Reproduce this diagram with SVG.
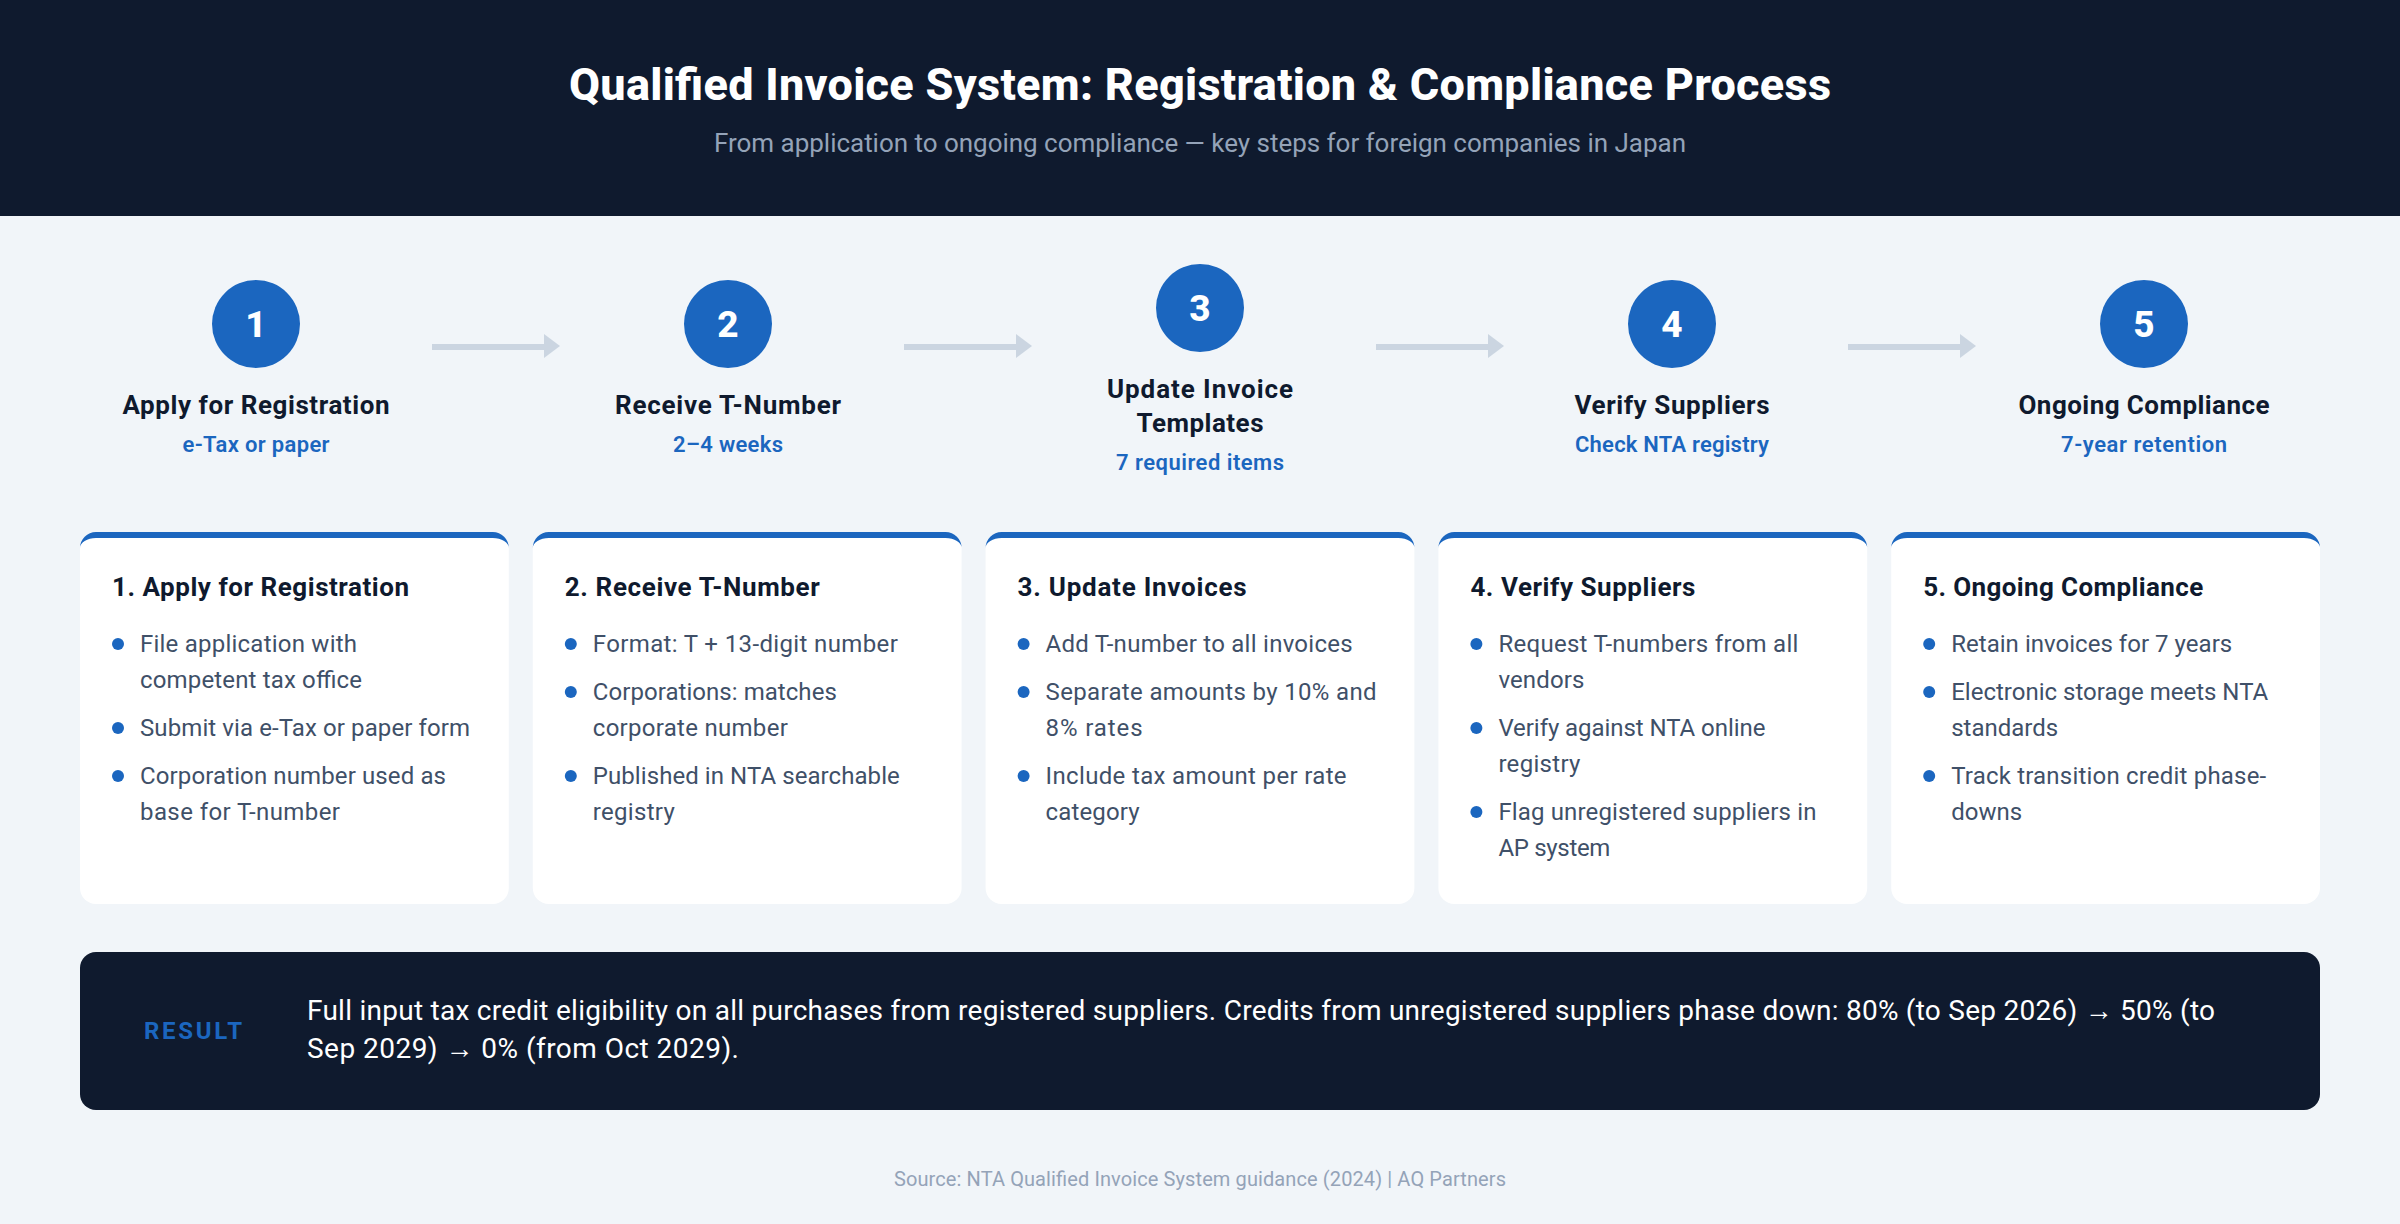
<svg xmlns="http://www.w3.org/2000/svg" width="2400" height="1224" viewBox="0 0 2400 1224">
<style>
text{font-family:"Roboto","Liberation Sans",sans-serif}
.ttl{font-size:45px;font-weight:800;fill:#fff;text-anchor:middle}
.subt{font-size:26px;fill:#94a3b8;text-anchor:middle}
.num{font-size:37px;font-weight:800;fill:#fff;text-anchor:middle}
.st{font-size:26px;font-weight:700;fill:#0f1a2e;text-anchor:middle}
.ss{font-size:22px;font-weight:600;fill:#1b66bf;text-anchor:middle}
.c,.d,.top{fill:#1b66bf}
.bg{fill:#fff}
.ch{font-size:26px;font-weight:700;fill:#0f1a2e}
.b{font-size:24px;fill:#3f5068}
.r{font-size:28px;fill:#fff}
.lab{font-size:24px;font-weight:700;fill:#1b66bf}
.src{font-size:20px;fill:#94a3b8;text-anchor:middle}
.a{stroke:#cbd5e1;stroke-width:6;fill:none}
.ah{fill:#cbd5e1}
</style>
<rect width="2400" height="1224" fill="#f1f5f9"/>
<g id="header"><rect width="2400" height="216" fill="#0f1a2e"/>
<text class="ttl" x="1200" y="100" textLength="1262">Qualified Invoice System: Registration &amp; Compliance Process</text>
<text class="subt" x="1200" y="152" textLength="972">From application to ongoing compliance — key steps for foreign companies in Japan</text></g>
<g id="connectors">
<path class="a" d="M432 347H545"/><path class="ah" d="M544 334L560 346L544 358Z"/>
<path class="a" d="M904 347H1017"/><path class="ah" d="M1016 334L1032 346L1016 358Z"/>
<path class="a" d="M1376 347H1489"/><path class="ah" d="M1488 334L1504 346L1488 358Z"/>
<path class="a" d="M1848 347H1961"/><path class="ah" d="M1960 334L1976 346L1960 358Z"/>
</g>
<g id="step1"><circle class="c" cx="256" cy="324" r="44"/><text class="num" x="256" y="337">1</text><text class="st" x="256" y="414" textLength="267">Apply for Registration</text><text class="ss" x="256" y="452" textLength="147">e-Tax or paper</text></g>
<g id="step2"><circle class="c" cx="728" cy="324" r="44"/><text class="num" x="728" y="337">2</text><text class="st" x="728" y="414" textLength="226">Receive T-Number</text><text class="ss" x="728" y="452" textLength="110">2–4 weeks</text></g>
<g id="step3"><circle class="c" cx="1200" cy="308" r="44"/><text class="num" x="1200" y="321">3</text><text class="st" x="1200" y="398" textLength="186">Update Invoice</text><text class="st" x="1200" y="432" textLength="127">Templates</text><text class="ss" x="1200" y="470" textLength="168">7 required items</text></g>
<g id="step4"><circle class="c" cx="1672" cy="324" r="44"/><text class="num" x="1672" y="337">4</text><text class="st" x="1672" y="414" textLength="195">Verify Suppliers</text><text class="ss" x="1672" y="452" textLength="194">Check NTA registry</text></g>
<g id="step5"><circle class="c" cx="2144" cy="324" r="44"/><text class="num" x="2144" y="337">5</text><text class="st" x="2144" y="414" textLength="251">Ongoing Compliance</text><text class="ss" x="2144" y="452" textLength="166">7-year retention</text></g>

<g id="card1">
<rect class="bg" x="80" y="532" width="428.8" height="372" rx="16"/>
<path class="top" d="M80 548A16 16 0 0 1 96 532H492.8A16 16 0 0 1 508.8 548A16 10 0 0 0 492.8 538H96A16 10 0 0 0 80 548Z"/>
<text class="ch" x="112" y="596" textLength="297">1. Apply for Registration</text>
<circle class="d" cx="118" cy="644" r="6"/><text class="b" x="140" y="652" textLength="217">File application with</text><text class="b" x="140" y="688" textLength="222">competent tax office</text>
<circle class="d" cx="118" cy="728" r="6"/><text class="b" x="140" y="736" textLength="330">Submit via e-Tax or paper form</text>
<circle class="d" cx="118" cy="776" r="6"/><text class="b" x="140" y="784" textLength="306">Corporation number used as</text><text class="b" x="140" y="820" textLength="200">base for T-number</text>
</g>
<g id="card2">
<rect class="bg" x="532.8" y="532" width="428.8" height="372" rx="16"/>
<path class="top" d="M532.8 548A16 16 0 0 1 548.8 532H945.6A16 16 0 0 1 961.6 548A16 10 0 0 0 945.6 538H548.8A16 10 0 0 0 532.8 548Z"/>
<text class="ch" x="564.8" y="596" textLength="255">2. Receive T-Number</text>
<circle class="d" cx="570.8" cy="644" r="6"/><text class="b" x="592.8" y="652" textLength="305">Format: T + 13-digit number</text>
<circle class="d" cx="570.8" cy="692" r="6"/><text class="b" x="592.8" y="700" textLength="244">Corporations: matches</text><text class="b" x="592.8" y="736" textLength="195">corporate number</text>
<circle class="d" cx="570.8" cy="776" r="6"/><text class="b" x="592.8" y="784" textLength="307">Published in NTA searchable</text><text class="b" x="592.8" y="820" textLength="82">registry</text>
</g>
<g id="card3">
<rect class="bg" x="985.6" y="532" width="428.8" height="372" rx="16"/>
<path class="top" d="M985.6 548A16 16 0 0 1 1001.6 532H1398.4A16 16 0 0 1 1414.4 548A16 10 0 0 0 1398.4 538H1001.6A16 10 0 0 0 985.6 548Z"/>
<text class="ch" x="1017.6" y="596" textLength="229">3. Update Invoices</text>
<circle class="d" cx="1023.6" cy="644" r="6"/><text class="b" x="1045.6" y="652" textLength="307">Add T-number to all invoices</text>
<circle class="d" cx="1023.6" cy="692" r="6"/><text class="b" x="1045.6" y="700" textLength="331">Separate amounts by 10% and</text><text class="b" x="1045.6" y="736" textLength="97">8% rates</text>
<circle class="d" cx="1023.6" cy="776" r="6"/><text class="b" x="1045.6" y="784" textLength="301">Include tax amount per rate</text><text class="b" x="1045.6" y="820" textLength="94">category</text>
</g>
<g id="card4">
<rect class="bg" x="1438.4" y="532" width="428.8" height="372" rx="16"/>
<path class="top" d="M1438.4 548A16 16 0 0 1 1454.4 532H1851.2A16 16 0 0 1 1867.2 548A16 10 0 0 0 1851.2 538H1454.4A16 10 0 0 0 1438.4 548Z"/>
<text class="ch" x="1470.4" y="596" textLength="225">4. Verify Suppliers</text>
<circle class="d" cx="1476.4" cy="644" r="6"/><text class="b" x="1498.4" y="652" textLength="300">Request T-numbers from all</text><text class="b" x="1498.4" y="688" textLength="86">vendors</text>
<circle class="d" cx="1476.4" cy="728" r="6"/><text class="b" x="1498.4" y="736" textLength="267">Verify against NTA online</text><text class="b" x="1498.4" y="772" textLength="82">registry</text>
<circle class="d" cx="1476.4" cy="812" r="6"/><text class="b" x="1498.4" y="820" textLength="318">Flag unregistered suppliers in</text><text class="b" x="1498.4" y="856" textLength="112">AP system</text>
</g>
<g id="card5">
<rect class="bg" x="1891.2" y="532" width="428.8" height="372" rx="16"/>
<path class="top" d="M1891.2 548A16 16 0 0 1 1907.2 532H2304A16 16 0 0 1 2320 548A16 10 0 0 0 2304 538H1907.2A16 10 0 0 0 1891.2 548Z"/>
<text class="ch" x="1923.2" y="596" textLength="280">5. Ongoing Compliance</text>
<circle class="d" cx="1929.2" cy="644" r="6"/><text class="b" x="1951.2" y="652" textLength="281">Retain invoices for 7 years</text>
<circle class="d" cx="1929.2" cy="692" r="6"/><text class="b" x="1951.2" y="700" textLength="317">Electronic storage meets NTA</text><text class="b" x="1951.2" y="736" textLength="107">standards</text>
<circle class="d" cx="1929.2" cy="776" r="6"/><text class="b" x="1951.2" y="784" textLength="315">Track transition credit phase-</text><text class="b" x="1951.2" y="820" textLength="71">downs</text>
</g>

<g id="result"><rect x="80" y="952" width="2240" height="158" rx="16" fill="#0f1a2e"/>
<text class="lab" x="144" y="1039" textLength="98">RESULT</text>
<text class="r" x="307" y="1020" textLength="1908">Full input tax credit eligibility on all purchases from registered suppliers. Credits from unregistered suppliers phase down: 80% (to Sep 2026) → 50% (to</text>
<text class="r" x="307" y="1058" textLength="432">Sep 2029) → 0% (from Oct 2029).</text></g>
<text class="src" x="1200" y="1186" textLength="612">Source: NTA Qualified Invoice System guidance (2024) | AQ Partners</text>
</svg>
